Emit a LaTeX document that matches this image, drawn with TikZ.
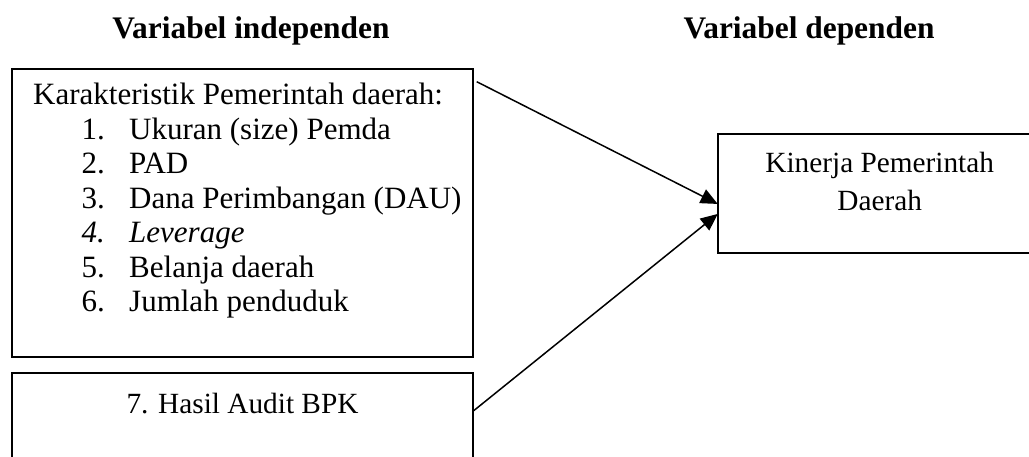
\documentclass[tikz,border=0pt]{standalone}
\usepackage{fontspec}
\setmainfont{Liberation Serif}
\usetikzlibrary{arrows.meta}
\begin{document}
\begin{tikzpicture}[x=1pt,y=-1pt,
  boxstyle/.style={draw, line width=2pt, inner sep=0pt, outer sep=0pt, anchor=north west},
  txt/.style={inner sep=0pt, anchor=base west, font=\fontsize{31}{34}\selectfont},
  ctxt/.style={inner sep=0pt, anchor=base, font=\fontsize{29.3}{34}\selectfont},
  ttl/.style={inner sep=0pt, anchor=base, font=\fontsize{31.4}{34}\selectfont\bfseries},
  conn/.style={line width=1.5pt, -{Triangle[length=17pt,width=15pt]}}]
\useasboundingbox (0,0) rectangle (1029,457);
\clip (0,0) rectangle (1029,457);
% titles
\node[ttl] (t1) at (251,39) {Variabel independen};
\node[ttl] (t2) at (809,39) {Variabel dependen};
% boxes
\node[boxstyle, minimum width=461.3pt, minimum height=287.2pt] (b1) at (12,69.3) {};
\node[boxstyle, minimum width=461.3pt, minimum height=120pt] (b2) at (12,373.3) {};
\node[boxstyle, minimum width=330pt, minimum height=118.7pt] (b3) at (717.7,134) {};
% box 1 text
\node[txt] (h) at (33,105) {Karakteristik Pemerintah daerah:};
\node[txt] (n1) at (81.5,139.5) {1.};
\node[txt] (i1) at (129,139.5) {Ukuran (size) Pemda};
\node[txt] (n2) at (81.5,174) {2.};
\node[txt] (i2) at (129,174) {PAD};
\node[txt] (n3) at (81.5,208.5) {3.};
\node[txt] (i3) at (129,208.5) {Dana Perimbangan (DAU)};
\node[txt] (n4) at (81.5,243) {\itshape 4.};
\node[txt] (i4) at (129,243) {\itshape Leverage};
\node[txt] (n5) at (81.5,277.5) {5.};
\node[txt] (i5) at (129,277.5) {Belanja daerah};
\node[txt] (n6) at (81.5,312) {6.};
\node[txt] (i6) at (129,312) {Jumlah penduduk};
% box 2 text
\node[ctxt] (h7) at (242.5,413) {7. Hasil Audit BPK};
% box 3 text
\node[ctxt] (k1) at (879.7,172.7) {Kinerja Pemerintah};
\node[ctxt] (k2) at (879.7,210.7) {Daerah};
% connectors
\draw[conn] ([xshift=3.4pt,yshift=-12.4pt]b1.north east) -- ([yshift=-10.6pt]b3.west);
\draw[conn] ([yshift=-37.7pt]b2.north east) -- ([yshift=-20.6pt]b3.west);
\end{tikzpicture}
\end{document}
